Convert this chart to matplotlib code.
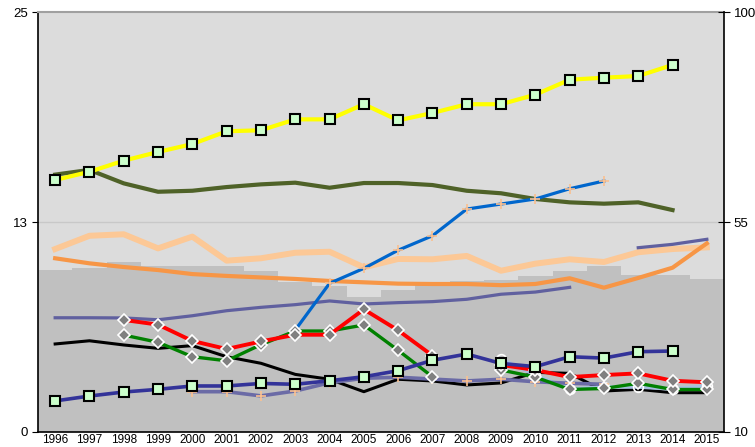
import numpy as np
import matplotlib
matplotlib.use("Agg")
import matplotlib.pyplot as plt

plt.rcParams['font.family'] = ['Liberation Sans', 'DejaVu Sans']

years = [str(y) for y in range(1996, 2016)]
nan = np.nan

# background columns (dark grey step area)
bars = [9.64, 9.74, 10.10, 9.88, 9.88, 9.88, 9.58, 8.95, 8.71, 8.02,
        8.45, 8.85, 8.99, 9.07, 9.30, 9.60, 9.88, 9.35, 9.35, 9.11]

yellow = [15.0, 15.49, 16.15, 16.67, 17.14, 17.90, 17.96, 18.61, 18.61, 19.51,
          18.55, 18.99, 19.51, 19.51, 20.08, 20.97, 21.09, 21.19, 21.85, nan]
olive = [15.32, 15.60, 14.80, 14.30, 14.36, 14.58, 14.74, 14.84, 14.54, 14.82,
         14.82, 14.70, 14.36, 14.21, 13.87, 13.67, 13.59, 13.67, 13.21, nan]
blue = [nan, nan, nan, nan, nan, nan, nan, 6.07, 8.85, 9.74,
        10.82, 11.68, 13.27, 13.57, 13.87, 14.48, 14.94, nan, nan, nan]
peach = [10.89, 11.68, 11.77, 10.93, 11.63, 10.20, 10.34, 10.67, 10.73, 9.80,
         10.30, 10.28, 10.48, 9.60, 10.02, 10.28, 10.12, 10.70, 10.89, 10.99]
orange = [10.34, 10.04, 9.82, 9.64, 9.40, 9.29, 9.20, 9.11, 8.99, 8.91,
          8.83, 8.81, 8.81, 8.74, 8.81, 9.15, 8.59, 9.17, 9.78, 11.23]
slate = [6.80, 6.80, 6.79, 6.68, 6.92, 7.22, 7.42, 7.58, 7.80, 7.62,
         7.70, 7.76, 7.90, 8.20, 8.33, 8.61, nan, 10.97, 11.17, 11.47]
red = [nan, nan, 6.67, 6.39, 5.42, 4.94, 5.39, 5.79, 5.79, 7.30,
       6.05, 4.55, nan, 3.99, 3.69, 3.27, 3.39, 3.49, 3.05, 2.96]
green = [nan, nan, 5.77, 5.34, 4.48, 4.24, 5.20, 6.01, 6.01, 6.37,
         4.86, 3.29, nan, 3.69, 3.27, 2.53, 2.59, 2.90, 2.53, 2.53]
lightblue = [nan, nan, nan, nan, nan, nan, nan, nan, nan, nan,
             nan, nan, nan, 4.35, 3.39, 2.56, 2.68, 2.68, 2.56, 2.74]
lavender = [nan, nan, nan, nan, 2.40, 2.40, 2.15, 2.44, 2.93, 3.20,
            3.26, 3.15, 3.04, 3.14, 2.99, 2.90, 2.84, nan, nan, nan]
navy = [1.85, 2.14, 2.38, 2.54, 2.74, 2.74, 2.89, 2.84, 3.05, 3.29,
        3.65, 4.27, 4.64, 4.08, 3.89, 4.48, 4.40, 4.78, 4.82, nan]
black = [5.24, 5.43, 5.18, 4.98, 5.14, 4.48, 4.09, 3.43, 3.14, 2.40,
         3.14, 3.04, 2.80, 2.92, 3.55, 3.49, 2.44, 2.54, 2.34, 2.34]

x = np.arange(len(years))

fig = plt.figure(figsize=(7.55, 4.47), dpi=100)
ax = fig.add_axes([38 / 755, 15 / 447, 686 / 755, 420 / 447])
ax.set_facecolor('#dcdcdc')

ax.bar(x, bars, width=1.0, color='#c0c0c0', zorder=1)
ax.axhline(12.5, color='#c8c8c8', lw=1, zorder=1.5)

ax.plot(x, peach, color='#fcc896', lw=4.3, zorder=2)
ax.plot(x, orange, color='#f79646', lw=3, zorder=2.1)
ax.plot(x, olive, color='#4f6228', lw=3, zorder=2.2)
ax.plot(x, slate, color='#60609f', lw=2.3, zorder=2.3)
ax.plot(x, blue, color='#0066cc', lw=2.3, zorder=2.4,
        marker='+', ms=7, mec='#fac090', mew=1.2)
ax.plot(x, black, color='black', lw=2.2, zorder=2.5)
ax.plot(x, lightblue, color='#a6bfe0', lw=2.6, zorder=2.6,
        marker='o', ms=7, mfc='none', mec='white', mew=1.2)
ax.plot(x, lavender, color='#6b6ba6', lw=2.6, zorder=2.7,
        marker='+', ms=7, mec='#fac090', mew=1.2)
ax.plot(x, green, color='#008000', lw=2.4, zorder=2.8,
        marker='D', ms=6.5, mfc='#808080', mec='white', mew=1.2)
ax.plot(x, red, color='#ff0000', lw=2.8, zorder=2.9,
        marker='D', ms=6.5, mfc='#808080', mec='white', mew=1.2)
ax.plot(x, navy, color='#333399', lw=2.6, zorder=3,
        marker='s', ms=7, mfc='#ccffcc', mec='black', mew=1.5)
ax.plot(x, yellow, color='#ffff00', lw=3, zorder=3.1,
        marker='s', ms=7, mfc='#ccffcc', mec='black', mew=1.5)

ax.set_xlim(-0.5, len(years) - 0.5)
ax.set_ylim(0, 25)
ax.set_yticks([0, 12.5, 25])
ax.set_yticklabels(['0', '13', '25'])
ax.set_xticks(x)
ax.set_xticklabels(years)
ax.tick_params(axis='x', length=0, pad=1.5, labelsize=8.5)
ax.tick_params(axis='y', direction='out', length=4, labelsize=9.5, pad=3)

for s in ['left', 'bottom']:
    ax.spines[s].set_color('black')
    ax.spines[s].set_linewidth(1.2)
ax.spines['top'].set_color('#a0a0a0')
ax.spines['top'].set_linewidth(1.5)
ax.spines['right'].set_visible(False)

ax2 = ax.twinx()
ax2.set_ylim(10, 100)
ax2.set_yticks([10, 55, 100])
ax2.set_yticklabels(['10', '55', '100'])
ax2.tick_params(axis='y', direction='inout', length=8, labelsize=9.5, pad=3)
ax2.spines['right'].set_color('black')
ax2.spines['right'].set_linewidth(1.2)
for s in ['left', 'top', 'bottom']:
    ax2.spines[s].set_visible(False)
ax2.patch.set_visible(False)

fig.savefig('out.png', dpi=100)
